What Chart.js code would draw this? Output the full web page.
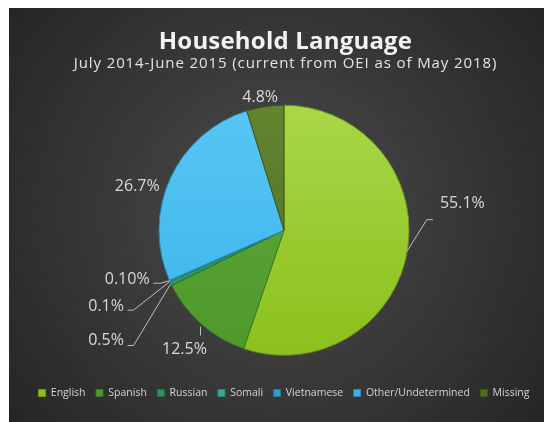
<!DOCTYPE html>
<html>
<head>
<meta charset="utf-8">
<script src="https://cdn.jsdelivr.net/npm/chart.js@4.4.1/dist/chart.umd.min.js"></script>
<style>
  html, body { margin: 0; padding: 0; background: #fff; }
  #wrap { position: absolute; left: 9px; top: 8px; width: 535px; height: 414px; }
</style>
</head>
<body>
<div id="wrap"><canvas id="langChart"></canvas></div>
<script>
// Household language shares, July 2014 - June 2015
const chartTitle = 'Household Language';
const chartSubtitle = 'July 2014-June 2015 (current from OEI as of May 2018)';
const languages = ['English', 'Spanish', 'Russian', 'Somali', 'Vietnamese', 'Other/Undetermined', 'Missing'];
const shares = [55.1, 12.5, 0.5, 0.1, 0.10, 26.7, 4.8];
const shareDecimals = [1, 1, 1, 1, 2, 1, 1];

// slice fills: lighter shade at the top of the pie, darker at the bottom
const fillTop = ['#a9d748', '#62ab3c', '#37a86c', '#3fbfa6', '#3eb0de', '#57c6f3', '#648430'];
const fillBottom = ['#8bc01c', '#4d9829', '#2b935b', '#31ac94', '#2f9ccb', '#3bb3ea', '#516e20'];
const edgeColors = ['#6e9a18', '#3d7a22', '#236f48', '#278a76', '#23779c', '#2c86ad', '#3f5518'];

// label placement, offsets from the slice's outer mid point
const labelOffsets = [[55, -47], [-17, 25], [-47, 57], [-46, 25], [-20, -1.5], [-33, 8], [-5, -9]];
const labelAlign = ['center', 'center', 'right', 'right', 'right', 'center', 'center'];
const leaderPoints = [
  [[0, 0], [19.6, -31], [25.6, -31]],
  [[-1, 2.5], [-1, 11.5]],
  [[0, 0], [-37.4, 62], [-43.4, 62]],
  [[0, 0], [-36.5, 28.7], [-42.5, 28.7]],
  [[0, 0], [-9.2, 2.5], [-16.2, 2.5]],
  null,
  null,
];

const PIE_RADIUS = 125;
const FONT = "'Open Sans', sans-serif";

function sliceFill(ctx) {
  const chart = ctx.chart;
  const area = chart.chartArea;
  const i = ctx.dataIndex;
  if (!area) return fillTop[i];
  const cy = (area.top + area.bottom) / 2;
  const g = chart.ctx.createLinearGradient(0, cy - PIE_RADIUS, 0, cy + PIE_RADIUS);
  g.addColorStop(0, fillTop[i]);
  g.addColorStop(1, fillBottom[i]);
  return g;
}

// dark radial backdrop plus the two heading lines
const backdrop = {
  id: 'backdrop',
  beforeDraw(chart) {
    const { ctx, width, height } = chart;
    const g = ctx.createRadialGradient(width / 2, height * 0.5, 0, width / 2, height * 0.5, width * 0.62);
    g.addColorStop(0, '#4c4c4c');
    g.addColorStop(1, '#262626');
    ctx.save();
    ctx.fillStyle = g;
    ctx.fillRect(0, 0, width, height);

    const cx = width / 2 + 9;
    ctx.textAlign = 'center';
    ctx.textBaseline = 'alphabetic';
    ctx.fillStyle = '#f2f2f2';
    ctx.font = `bold 24px ${FONT}`;
    ctx.letterSpacing = '0.2px';
    ctx.fillText(chartTitle, cx, 40.5);
    ctx.fillStyle = '#e4e4e4';
    ctx.font = `15px ${FONT}`;
    ctx.letterSpacing = '0.9px';
    ctx.fillText(chartSubtitle, cx, 59.5);
    ctx.letterSpacing = '0px';
    ctx.restore();
  },
};

const sliceLabels = {
  id: 'sliceLabels',
  afterDatasetsDraw(chart) {
    const { ctx } = chart;
    const meta = chart.getDatasetMeta(0);
    ctx.save();
    meta.data.forEach((arc, i) => {
      const { x, y, startAngle, endAngle, outerRadius } = arc.getProps(['x', 'y', 'startAngle', 'endAngle', 'outerRadius'], true);
      const mid = (startAngle + endAngle) / 2;
      const ax = x + Math.cos(mid) * outerRadius;
      const ay = y + Math.sin(mid) * outerRadius;

      const pts = leaderPoints[i];
      if (pts) {
        ctx.strokeStyle = '#bfbfbf';
        ctx.lineWidth = 1;
        ctx.beginPath();
        pts.forEach(([dx, dy], k) => {
          if (k === 0) ctx.moveTo(ax + dx, ay + dy);
          else ctx.lineTo(ax + dx, ay + dy);
        });
        ctx.stroke();
      }

      const [ox, oy] = labelOffsets[i];
      ctx.fillStyle = '#d9d9d9';
      ctx.font = `16px ${FONT}`;
      ctx.textAlign = labelAlign[i];
      ctx.textBaseline = 'middle';
      ctx.fillText(shares[i].toFixed(shareDecimals[i]) + '%', ax + ox, ay + oy);
    });
    ctx.restore();
  },
};

new Chart(document.getElementById('langChart'), {
  type: 'pie',
  data: {
    labels: languages,
    datasets: [{
      data: shares,
      backgroundColor: sliceFill,
      borderColor: edgeColors,
      borderWidth: 1,
    }],
  },
  options: {
    responsive: true,
    maintainAspectRatio: false,
    animation: false,
    radius: PIE_RADIUS,
    layout: { padding: { left: 15, right: 0, top: 75.25, bottom: 13.75 } },
    plugins: {
      legend: {
        position: 'bottom',
        labels: {
          boxWidth: 7,
          boxHeight: 7,
          color: '#d4d4d4',
          font: { family: FONT, size: 10.5 },
          padding: 10.5,
        },
      },
      tooltip: { enabled: false },
    },
  },
  plugins: [backdrop, sliceLabels],
});
</script>
</body>
</html>
